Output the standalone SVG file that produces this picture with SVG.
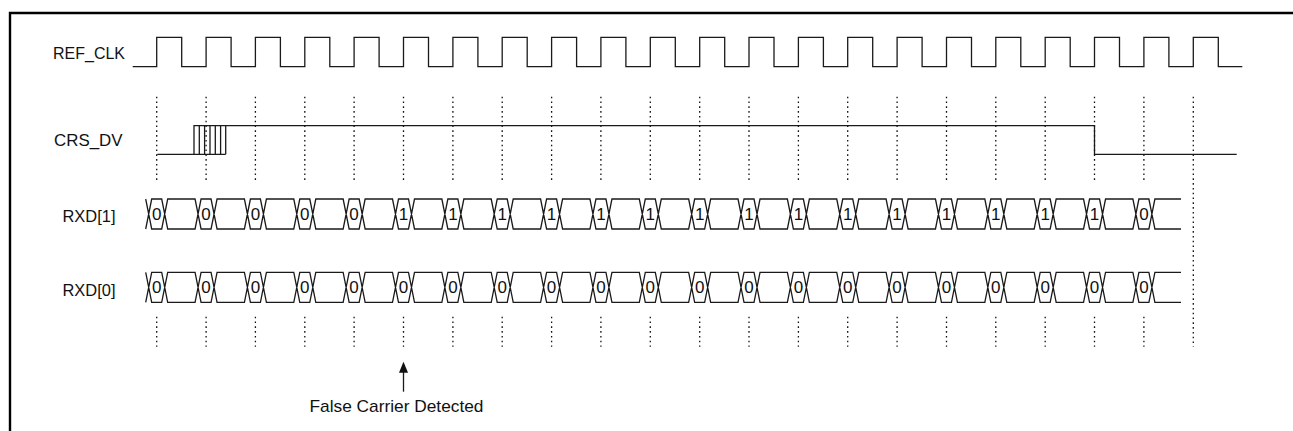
<svg xmlns="http://www.w3.org/2000/svg" xmlns:xlink="http://www.w3.org/1999/xlink" width="1293" height="431" viewBox="0 0 1293 431">
<style>
.frame{fill:none;stroke:#000;stroke-width:2.4}
.wave{fill:none;stroke:#1a1a1a;stroke-width:1.3}
.dot{fill:none;stroke:#111;stroke-width:1.3;stroke-dasharray:1.6 3.2}
.lbl{font-family:"Liberation Sans",Arial,sans-serif;font-size:17px;fill:#111}
.val text{font-family:"Liberation Sans",Arial,sans-serif;font-size:17px;fill:#111;text-anchor:middle}
</style>
<defs>
<path id="bus" class="wave" d="M145.7 -15l6 30h10l6 -30h27.36l6 30h10l6 -30h27.36l6 30h10l6 -30h27.36l6 30h10l6 -30h27.36l6 30h10l6 -30h27.36l6 30h10l6 -30h27.36l6 30h10l6 -30h27.36l6 30h10l6 -30h27.36l6 30h10l6 -30h27.36l6 30h10l6 -30h27.36l6 30h10l6 -30h27.36l6 30h10l6 -30h27.36l6 30h10l6 -30h27.36l6 30h10l6 -30h27.36l6 30h10l6 -30h27.36l6 30h10l6 -30h27.36l6 30h10l6 -30h27.36l6 30h10l6 -30h27.36l6 30h10l6 -30h27.36l6 30h10l6 -30h27.36l6 30h10l6 -30H1181M145.7 15l6 -30h10l6 30h27.36l6 -30h10l6 30h27.36l6 -30h10l6 30h27.36l6 -30h10l6 30h27.36l6 -30h10l6 30h27.36l6 -30h10l6 30h27.36l6 -30h10l6 30h27.36l6 -30h10l6 30h27.36l6 -30h10l6 30h27.36l6 -30h10l6 30h27.36l6 -30h10l6 30h27.36l6 -30h10l6 30h27.36l6 -30h10l6 30h27.36l6 -30h10l6 30h27.36l6 -30h10l6 30h27.36l6 -30h10l6 30h27.36l6 -30h10l6 30h27.36l6 -30h10l6 30h27.36l6 -30h10l6 30h27.36l6 -30h10l6 30h27.36l6 -30h10l6 30H1181"/>
<marker id="arrow" markerUnits="userSpaceOnUse" markerWidth="11" markerHeight="9" refX="8" refY="4.5" orient="auto">
<path d="M0 0L11 4.5L0 9z" fill="#111"/>
</marker>
</defs>
<rect width="1293" height="431" fill="#fff"/>
<path class="frame" d="M10 431V13H1293"/>

<g id="guides">
<path class="dot" d="M156.7 96.7V182.7M206.1 96.7V182.7M255.4 96.7V182.7M304.8 96.7V182.7M354.1 96.7V182.7M403.5 96.7V182.7M452.9 96.7V182.7M502.2 96.7V182.7M551.6 96.7V182.7M600.9 96.7V182.7M650.3 96.7V182.7M699.7 96.7V182.7M749 96.7V182.7M798.4 96.7V182.7M847.7 96.7V182.7M897.1 96.7V182.7M946.5 96.7V182.7M995.8 96.7V182.7M1045.2 96.7V182.7M1094.5 96.7V182.7M1143.9 96.7V182.7"/>
<path class="dot" d="M156.7 316.7V346.7M206.1 316.7V346.7M255.4 316.7V346.7M304.8 316.7V346.7M354.1 316.7V346.7M403.5 316.7V346.7M452.9 316.7V346.7M502.2 316.7V346.7M551.6 316.7V346.7M600.9 316.7V346.7M650.3 316.7V346.7M699.7 316.7V346.7M749 316.7V346.7M798.4 316.7V346.7M847.7 316.7V346.7M897.1 316.7V346.7M946.5 316.7V346.7M995.8 316.7V346.7M1045.2 316.7V346.7M1094.5 316.7V346.7M1143.9 316.7V346.7"/>
<path class="dot" d="M1193.3 96.7V346.7"/>
</g>

<g id="ref_clk">
<text class="lbl" x="53" y="59" textLength="72" lengthAdjust="spacingAndGlyphs">REF_CLK</text>
<path class="wave" d="M132.7 66.7H156.7V37.3H181.7V66.7H206.1V37.3H231.1V66.7H255.4V37.3H280.4V66.7H304.8V37.3H329.8V66.7H354.1V37.3H379.1V66.7H403.5V37.3H428.5V66.7H452.9V37.3H477.9V66.7H502.2V37.3H527.2V66.7H551.6V37.3H576.6V66.7H600.9V37.3H625.9V66.7H650.3V37.3H675.3V66.7H699.7V37.3H724.7V66.7H749V37.3H774V66.7H798.4V37.3H823.4V66.7H847.7V37.3H872.7V66.7H897.1V37.3H922.1V66.7H946.5V37.3H971.5V66.7H995.8V37.3H1020.8V66.7H1045.2V37.3H1070.2V66.7H1094.5V37.3H1119.5V66.7H1143.9V37.3H1168.9V66.7H1193.3V37.3H1218.3V66.7H1242.3"/>
</g>

<g id="crs_dv">
<text class="lbl" x="54" y="146" textLength="68.5" lengthAdjust="spacingAndGlyphs">CRS_DV</text>
<path class="wave" d="M157.3 154.3H225.7M194 154.3V125.7H1094.5V154.3H1236.7M199.3 125.7V154.3M204.6 125.7V154.3M210 125.7V154.3M215.3 125.7V154.3M220.6 125.7V154.3M225.7 125.7V154.3"/>
</g>

<g id="rxd1">
<text class="lbl" x="62.5" y="222" textLength="53" lengthAdjust="spacingAndGlyphs">RXD[1]</text>
<use xlink:href="#bus" href="#bus" transform="translate(0 214)"/>
<g class="val">
<text x="156.7" y="220.1">0</text><text x="206.1" y="220.1">0</text><text x="255.4" y="220.1">0</text><text x="304.8" y="220.1">0</text><text x="354.1" y="220.1">0</text><text x="403.5" y="220.1">1</text><text x="452.9" y="220.1">1</text><text x="502.2" y="220.1">1</text><text x="551.6" y="220.1">1</text><text x="600.9" y="220.1">1</text><text x="650.3" y="220.1">1</text><text x="699.7" y="220.1">1</text><text x="749" y="220.1">1</text><text x="798.4" y="220.1">1</text><text x="847.7" y="220.1">1</text><text x="897.1" y="220.1">1</text><text x="946.5" y="220.1">1</text><text x="995.8" y="220.1">1</text><text x="1045.2" y="220.1">1</text><text x="1094.5" y="220.1">1</text><text x="1143.9" y="220.1">0</text>
</g>
</g>

<g id="rxd0">
<text class="lbl" x="62.5" y="296" textLength="53" lengthAdjust="spacingAndGlyphs">RXD[0]</text>
<use xlink:href="#bus" href="#bus" transform="translate(0 287.3)"/>
<g class="val">
<text x="156.7" y="293.4">0</text><text x="206.1" y="293.4">0</text><text x="255.4" y="293.4">0</text><text x="304.8" y="293.4">0</text><text x="354.1" y="293.4">0</text><text x="403.5" y="293.4">0</text><text x="452.9" y="293.4">0</text><text x="502.2" y="293.4">0</text><text x="551.6" y="293.4">0</text><text x="600.9" y="293.4">0</text><text x="650.3" y="293.4">0</text><text x="699.7" y="293.4">0</text><text x="749" y="293.4">0</text><text x="798.4" y="293.4">0</text><text x="847.7" y="293.4">0</text><text x="897.1" y="293.4">0</text><text x="946.5" y="293.4">0</text><text x="995.8" y="293.4">0</text><text x="1045.2" y="293.4">0</text><text x="1094.5" y="293.4">0</text><text x="1143.9" y="293.4">0</text>
</g>
</g>

<g id="false_carrier">
<text class="lbl" x="309.5" y="411.5" textLength="174" lengthAdjust="spacingAndGlyphs">False Carrier Detected</text>
</g>

<g id="connectors">
<path class="wave" d="M403.5 391.7V364.7" marker-end="url(#arrow)"/>
</g>
</svg>
